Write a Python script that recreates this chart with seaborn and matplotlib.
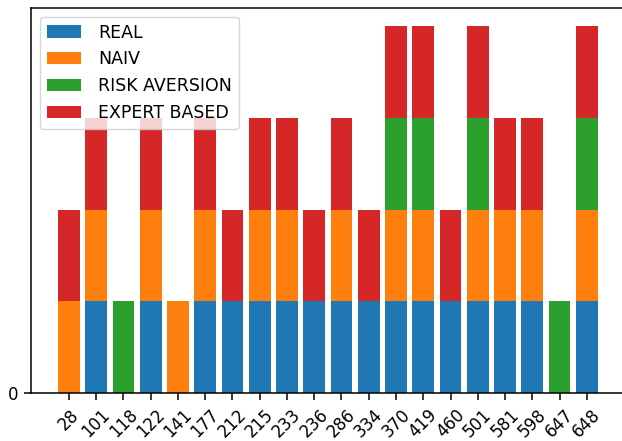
import matplotlib
matplotlib.use("Agg")
import matplotlib.pyplot as plt
import seaborn as sns
import numpy as np
import pandas as pd

categories = ["28", "101", "118", "122", "141", "177", "212", "215", "233", "236",
              "286", "334", "370", "419", "460", "501", "581", "598", "647", "648"]
real          = [0, 1, 0, 1, 0, 1, 1, 1, 1, 1, 1, 1, 1, 1, 1, 1, 1, 1, 0, 1]
naiv          = [1, 1, 0, 1, 1, 1, 0, 1, 1, 0, 1, 0, 1, 1, 0, 1, 1, 1, 0, 1]
risk_aversion = [0, 0, 1, 0, 0, 0, 0, 0, 0, 0, 0, 0, 1, 1, 0, 1, 0, 0, 1, 1]
expert_based  = [1, 1, 0, 1, 0, 1, 1, 1, 1, 1, 1, 1, 1, 1, 1, 1, 1, 1, 0, 1]

series_names = ["REAL", "NAIV", "RISK AVERSION", "EXPERT BASED"]
series_values = [real, naiv, risk_aversion, expert_based]
colors = ["#1f77b4", "#ff7f0e", "#2ca02c", "#d62728"]

fig = plt.figure(figsize=(6.22, 4.41), dpi=100)
ax = fig.add_axes([31 / 622, 48 / 441, 620 / 622, 385 / 441])

bottom = np.zeros(len(categories))
handles = []
for name, vals, col in zip(series_names, series_values, colors):
    df = pd.DataFrame({"cat": categories, "val": vals})
    sns.barplot(data=df, x="cat", y="val", order=categories, color=col,
                saturation=1, width=0.8, bottom=bottom.copy(), ax=ax,
                errorbar=None, label=name)
    handles.append(ax.containers[-1])
    bottom = bottom + np.array(vals)

ax.set_xlim(-1.39, -1.39 + 620 / 27.26)
ax.set_ylim(0, 4.2)
ax.set_yticks([0])
ax.set_xlabel("")
ax.set_ylabel("")
ax.tick_params(axis="x", labelrotation=45, labelsize=12, length=5.25, width=1.1, pad=4)
ax.tick_params(axis="y", labelsize=12, length=5.25, width=1.1, pad=4)
for s in ax.spines.values():
    s.set_visible(True)
    s.set_linewidth(1.1)
ax.legend(handles, series_names, loc="upper left", fontsize=12.5,
          handletextpad=0.95)

fig.savefig("out.png", dpi=100)
